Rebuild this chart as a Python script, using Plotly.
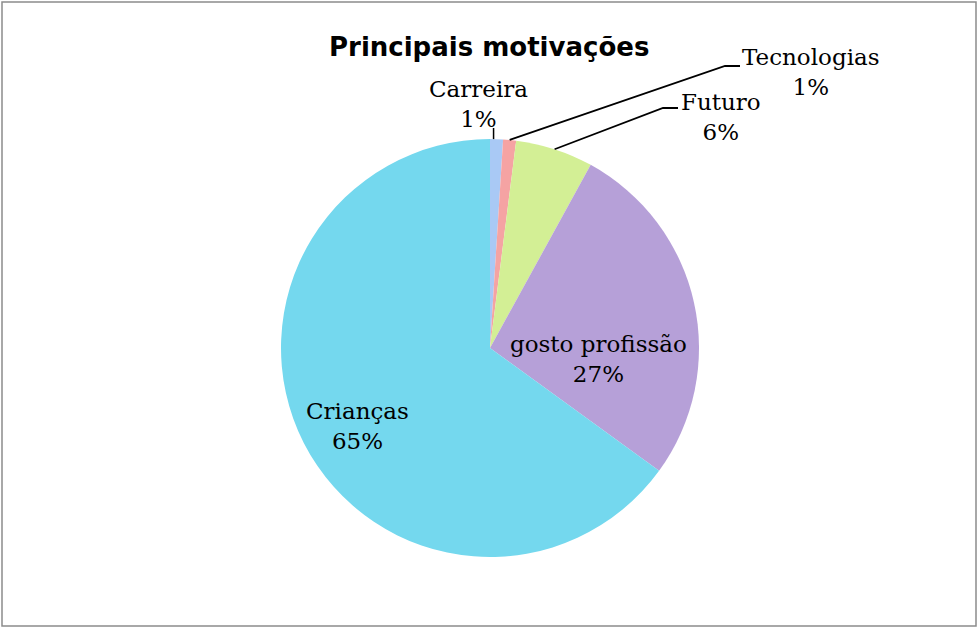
import math
import plotly.graph_objects as go

# dados
categorias = ["Carreira", "Tecnologias", "Futuro", "gosto profissão", "Crianças"]
valores = [1, 1, 6, 27, 65]
cores = ["#a9c9f5", "#f5a3a3", "#d3ef95", "#b6a0d8", "#74d8ee"]
titulo = "Principais motivações"

W, H = 979, 628
cx, cy, r = 490, 348, 209  # centro e raio do pie em pixels

fig = go.Figure(go.Pie(
    labels=categorias,
    values=valores,
    marker=dict(colors=cores, line=dict(width=0)),
    sort=False,
    direction="clockwise",
    rotation=0,
    textinfo="none",
    hoverinfo="label+percent",
    showlegend=False,
    domain=dict(x=[(cx - r) / W, (cx + r) / W], y=[(H - cy - r) / H, (H - cy + r) / H]),
))

total = sum(valores)
pcts = [round(v / total * 100) for v in valores]

# posicao central de cada rotulo (px) - layout
pos_rotulos = [(478, 104), (811, 72), (721, 117), (598, 359), (357, 426)]


def px2paper(x, y):
    return x / W, 1 - y / H


annotations = []
for nome, p, (lx, ly) in zip(categorias, pcts, pos_rotulos):
    xp, yp = px2paper(lx, ly)
    annotations.append(dict(
        x=xp, y=yp, xref="paper", yref="paper", showarrow=False,
        xanchor="center", yanchor="middle",
        text=f"{nome}<br>{p}%", align="center",
        font=dict(family="DejaVu Serif", size=23, color="#000000"),
    ))

# linhas de ligacao a partir do meio de cada fatia
acum = 0
meio = []
for v in valores:
    ang = (acum + v / 2) / total * 2 * math.pi
    meio.append((cx + r * math.sin(ang), cy - r * math.cos(ang)))
    acum += v

shapes = []
# Carreira: linha curta vertical
x0, y0 = meio[0]
a = px2paper(x0 - 3, y0)
b = px2paper(x0 - 3, 128)
shapes.append(dict(type="line", xref="paper", yref="paper", x0=a[0], y0=a[1], x1=b[0], y1=b[1],
                   line=dict(color="black", width=1.5)))
# Tecnologias e Futuro: linha com cotovelo
cotovelos = {1: ((725, 66), (740, 66)), 2: ((663, 108), (678, 108))}
for i, (p1, p2) in cotovelos.items():
    pts = [meio[i], p1, p2]
    path = "M " + " L ".join(f"{px2paper(x, y)[0]},{px2paper(x, y)[1]}" for x, y in pts)
    shapes.append(dict(type="path", xref="paper", yref="paper", path=path,
                       line=dict(color="black", width=1.8)))

# moldura
shapes.append(dict(type="rect", xref="paper", yref="paper", x0=2 / W, y0=2 / H, x1=1 - 3 / W, y1=1 - 2 / H,
                   line=dict(color="#8c8c8c", width=1.5)))

tx, ty = px2paper(489, 47)
annotations.append(dict(
    x=tx, y=ty, xref="paper", yref="paper", showarrow=False,
    xanchor="center", yanchor="middle", text=f"<b>{titulo}</b>",
    font=dict(family="DejaVu Sans", size=26, color="#000000"),
))

fig.update_layout(
    width=W, height=H, autosize=False,
    margin=dict(l=0, r=0, t=0, b=0),
    paper_bgcolor="white", plot_bgcolor="white",
    annotations=annotations, shapes=shapes,
)

fig.write_html("out.html", config={"displayModeBar": False},
               post_script="document.body.style.margin='0';")
